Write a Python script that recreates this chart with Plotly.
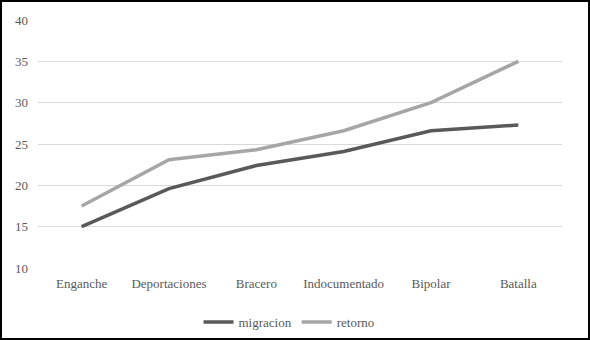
import plotly.graph_objects as go

categories = ["Enganche", "Deportaciones", "Bracero", "Indocumentado", "Bipolar", "Batalla"]
migracion = [15.0, 19.6, 22.4, 24.1, 26.6, 27.3]
retorno = [17.5, 23.1, 24.3, 26.6, 30.0, 35.0]
y_ticks = [10, 15, 20, 25, 30, 35, 40]

W, H = 590, 340
ml, mr, mt, mb = 38, 28, 20, 72
pw, ph = W - ml - mr, H - mt - mb
FONT = "Liberation Serif"

fig = go.Figure()
fig.add_trace(go.Scatter(x=categories, y=migracion, mode="lines", name="migracion",
                         line=dict(color="#595959", width=3.5)))
fig.add_trace(go.Scatter(x=categories, y=retorno, mode="lines", name="retorno",
                         line=dict(color="#a6a6a6", width=3.5)))

fig.update_layout(
    width=W, height=H,
    margin=dict(l=ml, r=mr, t=mt, b=mb, autoexpand=False),
    paper_bgcolor="white", plot_bgcolor="white",
    font=dict(family=FONT, size=13, color="#595959"),
    legend=dict(orientation="h", x=(289 - ml) / pw, xanchor="center",
                y=-(322 - 268) / ph, yanchor="middle",
                font=dict(family=FONT, size=13, color="#595959"), itemwidth=30,
                tracegroupgap=0),
    xaxis=dict(type="category", range=[-0.5, 5.5], showgrid=False, showline=False,
               ticks="", zeroline=False, tickfont=dict(family=FONT, size=13),
               automargin=False, ticklabelstandoff=6),
    yaxis=dict(range=[10, 40], tickvals=y_ticks, showgrid=True, gridcolor="#d9d9d9",
               gridwidth=1, zeroline=False, showline=False, ticks="", ticklen=0,
               tickfont=dict(family=FONT, size=13), automargin=False,
               ticklabelstandoff=9),
    shapes=[dict(type="rect", xref="paper", yref="paper",
                 x0=-(ml - 1) / pw, x1=1 + (mr - 1) / pw,
                 y0=-(mb - 1) / ph, y1=1 + (mt - 1) / ph,
                 line=dict(color="black", width=2), layer="above")],
)

fig.write_html("out.html", config={"displayModeBar": False},
               post_script="document.body.style.margin='0';")
